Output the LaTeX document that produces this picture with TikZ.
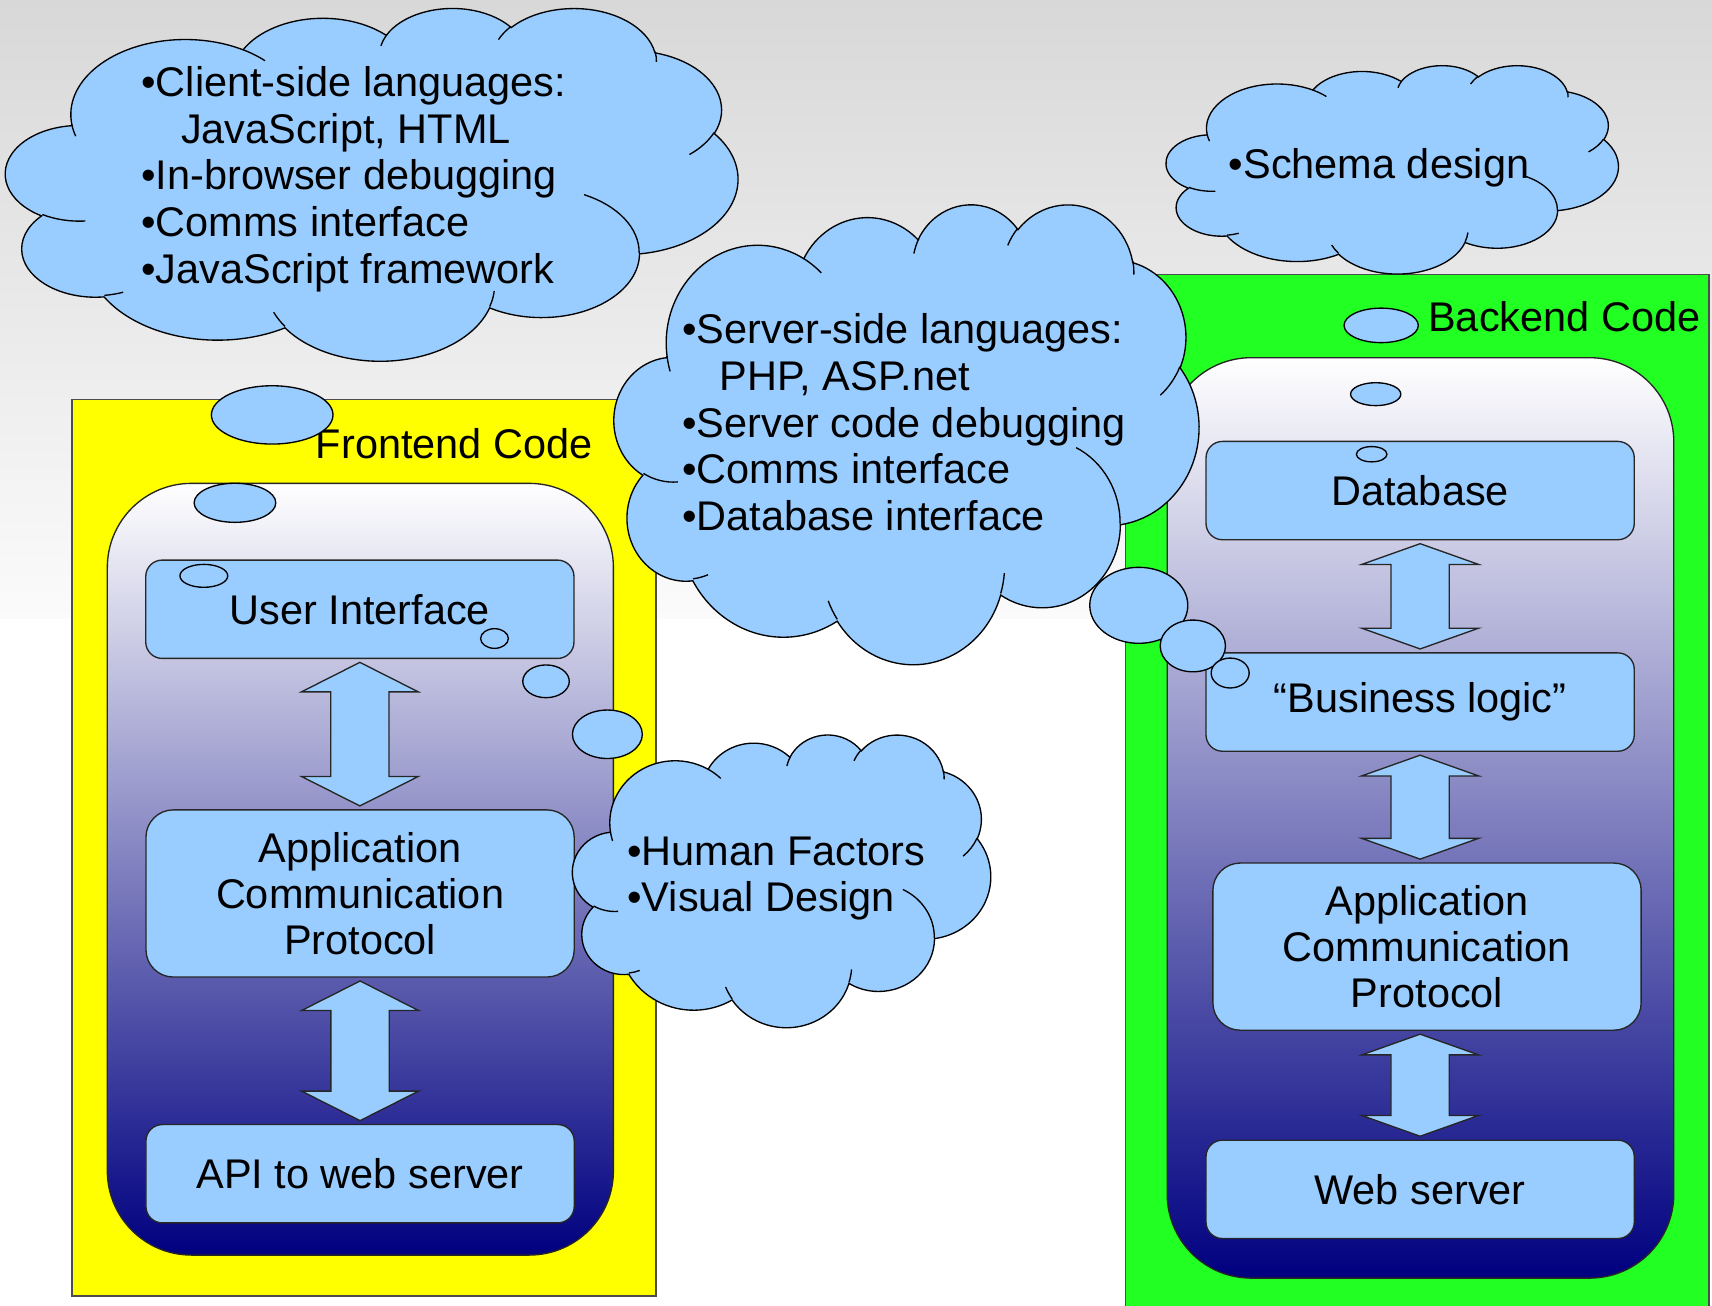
\documentclass[tikz,border=0pt]{standalone}
\usepackage{fontspec}
\setmainfont{Liberation Sans}
\usetikzlibrary{calc}
\definecolor{bubble}{HTML}{99CCFF}
\definecolor{frontyellow}{HTML}{FFFF00}
\definecolor{backgreen}{HTML}{22FF22}
\definecolor{stacknavy}{HTML}{000080}
\definecolor{slidetop}{HTML}{D8D8D8}
\definecolor{slidebot}{HTML}{FBFBFB}
\tikzset{
  zonebox/.style={draw=black!70,line width=0.4pt},
  stackbox/.style={draw=black!85,line width=0.35pt,rounded corners=0.77cm,top color=white,bottom color=stacknavy},
  layerbox/.style={draw=black!85,line width=0.35pt,fill=bubble,rounded corners=0.15cm,
    minimum width=3.92cm,minimum height=0.9cm,inner sep=0pt,align=center},
  tallbox/.style={layerbox,rounded corners=0.25cm,minimum height=1.53cm},
  twoway/.style={draw=black!85,line width=0.35pt,fill=bubble,line join=miter},
  thought/.style={draw=black,line width=0.35pt,fill=bubble},
  cloudline/.style={draw=black,line width=0.35pt},
  cloudtext/.style={anchor=base west,inner sep=0pt}
}
% arc with the visual start/sweep angles of an office drawing
\newcommand{\ooarc}[4]{arc[x radius=#1,y radius=#2,
  start angle={atan2(#1*sin(#3),#2*cos(#3))},
  delta angle={Mod(atan2(#1*sin(#3+#4),#2*cos(#3+#4))-atan2(#1*sin(#3),#2*cos(#3)),360)}]}
% cloud: left, top, width, height
\newcommand{\oocloud}[4]{
  \begin{scope}[shift={(#1,#2)},xscale=#3/43.2,yscale=#4/43.2]
    \filldraw[cloudline,fill=bubble] (3.9,14.37)
      \ooarc{6.753}{9.19}{-190.48748}{123.78053}
      \ooarc{5.333}{7.267}{-144.10238}{89.94523}
      \ooarc{4.365}{5.945}{-145.80792}{99.72302}
      \ooarc{4.857}{6.595}{-130.98607}{117.24173}
      \ooarc{5.333}{7.273}{-78.70888}{109.02692}
      \ooarc{6.775}{9.22}{-46.26725}{130.269}
      \ooarc{5.785}{7.867}{0.62502}{114.03333}
      \ooarc{6.752}{9.215}{22.4516}{115.17255}
      \ooarc{7.72}{10.543}{66.24263}{75.71102}
      \ooarc{4.36}{5.918}{-274.94208}{146.73557}
      \ooarc{4.345}{5.945}{-246.8285}{152.51885} -- cycle;
    \draw[cloudline]
      (4.693,26.177) \ooarc{4.345}{5.945}{86.742}{26.4295}
      (6.928,34.899) \ooarc{4.36}{5.918}{73.61047}{11.44747}
      (16.478,39.09) \ooarc{6.752}{9.215}{137.62415}{14.0811}
      (28.827,34.751) \ooarc{6.752}{9.215}{6.45327}{15.99835}
      (34.129,22.954) \ooarc{5.785}{7.867}{-70.29235}{70.91737}
      (41.798,15.354) \ooarc{5.333}{7.273}{30.31803}{27.7515}
      (38.324,5.426) \ooarc{4.857}{6.595}{-13.74433}{14.8589}
      (29.078,3.952) \ooarc{4.857}{6.595}{-149.18145}{18.19537}
      (22.141,4.72) \ooarc{4.365}{5.945}{-163.49427}{17.68635}
      (14,5.192) \ooarc{6.753}{9.19}{-66.70695}{12.31935}
      (4.127,15.789) \ooarc{6.753}{9.19}{157.65435}{11.85817};
  \end{scope}
}
% fat double arrow between two layers
\newcommand{\twoway}[3][0.27cm]{
  \draw[twoway] let \p1=#2, \p2=#3 in
    (\x1,{\y1-0.03cm}) -- ({\x1+0.535cm},{\y1-0.03cm-#1}) -- ({\x1+0.267cm},{\y1-0.03cm-#1})
    -- ({\x1+0.267cm},{\y2+0.03cm+#1}) -- ({\x1+0.535cm},{\y2+0.03cm+#1}) -- (\x1,{\y2+0.03cm})
    -- ({\x1-0.535cm},{\y2+0.03cm+#1}) -- ({\x1-0.267cm},{\y2+0.03cm+#1})
    -- ({\x1-0.267cm},{\y1-0.03cm-#1}) -- ({\x1-0.535cm},{\y1-0.03cm-#1}) -- cycle;
}

\begin{document}
\begin{tikzpicture}[x=0.01cm,y=-0.01cm,font=\fontsize{10.8}{12}\selectfont]
\useasboundingbox (0,0) rectangle (1568,1196);
% slide
\shade[top color=slidetop,bottom color=slidebot] (0,0) rectangle (1568,567);
\fill[white] (0,567) rectangle (1568,1196);

% code zones
\draw[zonebox,fill=frontyellow] (65.8,365.8) rectangle (600.7,1187);
\draw[zonebox,fill=backgreen] (1030.8,251.3) rectangle (1565.2,1205);
\node[anchor=base east,inner sep=0pt] (frontlabel) at (543.4,419.8) {Frontend Code};
\node[anchor=base east,inner sep=0pt] (backlabel) at (1558,303.8) {Backend Code};

% layer stacks
\draw[stackbox] (98.3,442.7) rectangle (561.8,1149.5);
\draw[stackbox] (1069,327.6) rectangle (1533,1170.6);

\node[layerbox] (ui) at (329.6,558) {User Interface};
\node[tallbox] (fproto) at (329.8,818.3) {Application\\Communication\\Protocol};
\node[layerbox] (api) at (329.8,1075) {API to web server};

\node[layerbox] (db) at (1300.7,449.3) {Database};
\node[layerbox] (logic) at (1300.7,643) {“Business logic”};
\node[tallbox] (bproto) at (1307,867) {Application\\Communication\\Protocol};
\node[layerbox] (web) at (1300.7,1089.3) {Web server};

\twoway{(ui.south)}{(fproto.north)}
\twoway{(fproto.south)}{(api.north)}
\twoway[0.19cm]{(db.south)}{(logic.north)}
\twoway[0.19cm]{(logic.south)}{(bproto.north -| logic.south)}
\twoway[0.19cm]{(bproto.south -| web.north)}{(web.north)}

% client side
\oocloud{5.3}{6.7}{670.4}{323}
\foreach \txt [count=\i] in {•Client-side languages:,{\hspace*{0.364cm}JavaScript, HTML},
    •In-browser debugging,•Comms interface,•JavaScript framework}
  \node[cloudtext] (client\i) at (128.8,{88.5+42.75*(\i-1)}) {\txt};
\foreach \cx/\cy/\rx/\ry in {249.3/380/55.7/26.7,215.2/460.5/37.4/17.9,186.7/527.4/21.9/10.5}
  \filldraw[thought] (\cx,\cy) ellipse [x radius=\rx,y radius=\ry];

% schema
\oocloud{1068.2}{59.5}{414}{190.8}
\node[cloudtext] (schema) at (1124.8,163.3) {•Schema design};
\foreach \cx/\cy/\rx/\ry in {1265/298/34/15.8,1260/361/23/10.5,1256.3/416/14/7}
  \filldraw[thought] (\cx,\cy) ellipse [x radius=\rx,y radius=\ry];

% server side
\oocloud{562.6}{186.2}{535.4}{421.1}
\foreach \txt [count=\i] in {•Server-side languages:,{\hspace*{0.343cm}PHP, ASP.net},
    •Server code debugging,•Comms interface,•Database interface}
  \node[cloudtext] (server\i) at (624.3,{314.5+42.875*(\i-1)}) {\txt};
\foreach \cx/\cy/\rx/\ry in {1043/554.4/44.9/34.8,1092.5/591.6/29.9/23.7,1126.7/616.4/17.4/13.7}
  \filldraw[thought] (\cx,\cy) ellipse [x radius=\rx,y radius=\ry];

% human factors
\foreach \cx/\cy/\rx/\ry in {556.3/672.5/32/22.2,500.1/624/21.3/15,452.9/584.8/12.7/9}
  \filldraw[thought] (\cx,\cy) ellipse [x radius=\rx,y radius=\ry];
\oocloud{524.5}{672.3}{382.8}{268}
\node[cloudtext] (human1) at (574,792.3) {•Human Factors};
\node[cloudtext] (human2) at (574,835) {•Visual Design};
\end{tikzpicture}
\end{document}
